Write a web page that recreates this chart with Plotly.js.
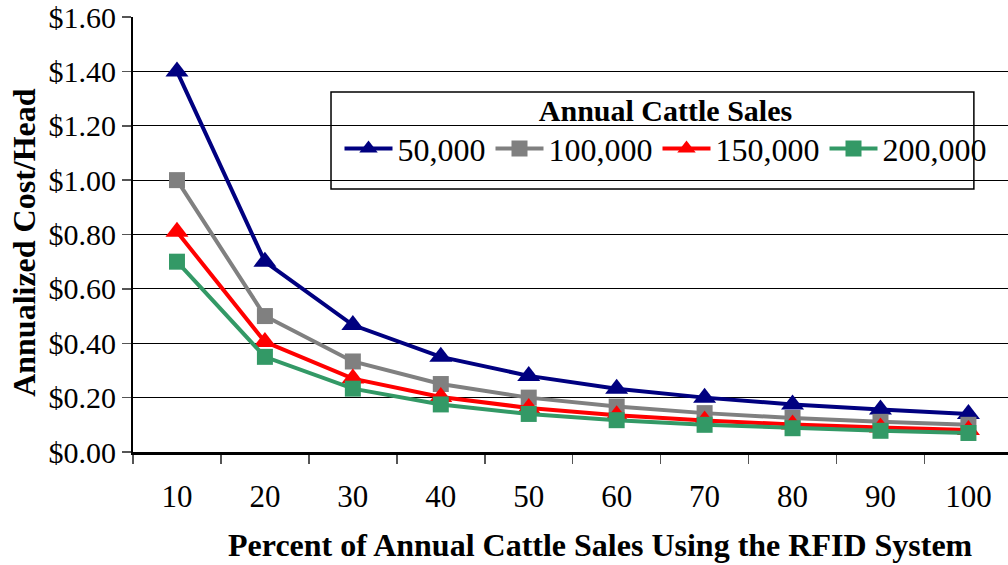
<!DOCTYPE html>
<html>
<head>
<meta charset="utf-8">
<script src="https://cdn.plot.ly/plotly-3.0.1.min.js"></script>
<style>html,body{margin:0;padding:0;background:#fff;}#chart{width:1008px;height:565px;}</style>
</head>
<body>
<div id="chart"></div>
<script>
const categories = ["10","20","30","40","50","60","70","80","90","100"];
const sales50k  = [1.40, 0.70, 0.467, 0.35, 0.28, 0.233, 0.20, 0.175, 0.156, 0.14];
const sales100k = [1.00, 0.50, 0.333, 0.25, 0.20, 0.167, 0.143, 0.125, 0.111, 0.10];
const sales150k = [0.81, 0.405, 0.27, 0.2025, 0.162, 0.135, 0.116, 0.101, 0.09, 0.081];
const sales200k = [0.70, 0.35, 0.233, 0.175, 0.14, 0.117, 0.10, 0.0875, 0.078, 0.07];
const seriesNames = ["50,000","100,000","150,000","200,000"];
const yTickVals = [0,0.2,0.4,0.6,0.8,1.0,1.2,1.4,1.6];
const yTickText = ["$0.00","$0.20","$0.40","$0.60","$0.80","$1.00","$1.20","$1.40","$1.60"];
const xTitle = 'Percent of Annual Cattle Sales Using the RFID System';
const yTitle = 'Annualized Cost/Head';
const legendTitle = 'Annual Cattle Sales';

const serif = "Liberation Serif, Times New Roman, serif";
function tr(y, name, color, symbol, size){
  return {x: categories, y: y, name: name, type: 'scatter', mode: 'lines+markers',
    line: {color: color, width: 4},
    marker: {color: color, symbol: symbol, size: size}};
}
const data = [
  tr(sales50k, seriesNames[0], '#000080', 'triangle-up', 20),
  tr(sales100k, seriesNames[1], '#808080', 'square', 16),
  tr(sales150k, seriesNames[2], '#FF0000', 'triangle-up', 20),
  tr(sales200k, seriesNames[3], '#339966', 'square', 16)
];
const layout = {
  width: 1008, height: 565,
  margin: {l: 133, r: 0, t: 17, b: 113},
  paper_bgcolor: '#fff', plot_bgcolor: '#fff',
  font: {family: serif, color: '#000', size: 30},
  xaxis: {
    type: 'category', range: [-0.5, 9.45],
    tickson: 'boundaries', ticks: 'outside', ticklen: 9, tickwidth: 1.5, tickcolor: '#555',
    showgrid: false, showline: true, linecolor: '#000', linewidth: 2.5,
    tickfont: {family: serif, size: 31}, ticklabelstandoff: 15,
    automargin: false, zeroline: false
  },
  yaxis: {
    range: [0, 1.6], tickvals: yTickVals, ticktext: yTickText,
    ticks: 'outside', ticklen: 9, tickcolor: '#555', tickwidth: 1.5,
    showgrid: true, gridcolor: '#000', gridwidth: 1,
    showline: true, linecolor: '#000', linewidth: 2,
    tickfont: {family: serif, size: 30},
    automargin: false, zeroline: false
  },
  annotations: [
    {text: '<b>' + xTitle + '</b>', xref: 'paper', yref: 'paper', x: 0.534, y: -0.214,
      xanchor: 'center', yanchor: 'middle', showarrow: false, font: {family: serif, size: 32}},
    {text: '<b>' + yTitle + '</b>', xref: 'paper', yref: 'paper', x: -0.1246, y: 0.483,
      xanchor: 'center', yanchor: 'middle', textangle: -90, showarrow: false, font: {family: serif, size: 32}}
  ],
  shapes: [{type: 'rect', xref: 'paper', yref: 'paper', x0: 0.2263, x1: 0.961, y0: 0.6046, y1: 0.8276,
    line: {color: '#000', width: 1.5}, fillcolor: '#fff', layer: 'below'}],
  legend: {
    orientation: 'h', x: 0.236, y: 0.85, xanchor: 'left', yanchor: 'top',
    bgcolor: 'rgba(0,0,0,0)', borderwidth: 0,
    font: {family: serif, size: 32},
    title: {text: legendTitle, side: 'top center', font: {family: serif, size: 30, weight: 'bold'}},
    itemwidth: 48, tracegroupgap: 0
  },
  showlegend: true
};
Plotly.newPlot('chart', data, layout, {displayModeBar: false, staticPlot: true});
</script>
</body>
</html>
